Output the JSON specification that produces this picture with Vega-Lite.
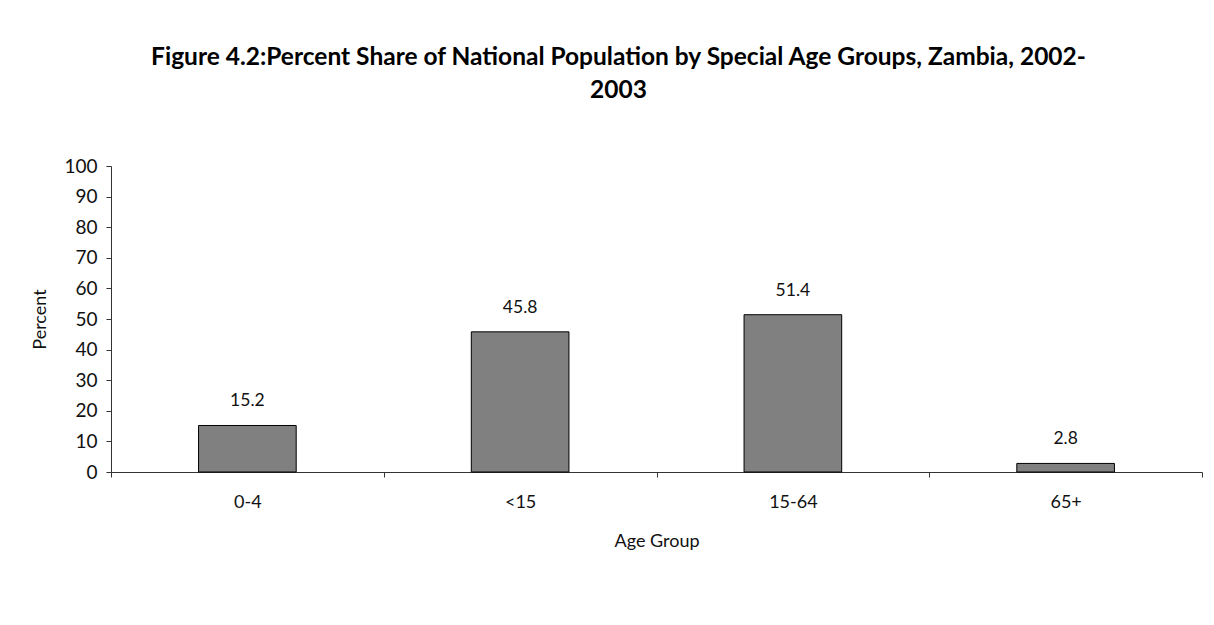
{
  "$schema": "https://vega.github.io/schema/vega-lite/v6.json",
  "autosize": {"type": "none"},
  "width": 1091,
  "height": 306,
  "padding": {"left": 111, "top": 166, "right": 12, "bottom": 153},
  "background": "white",
  "config": {
    "view": {"stroke": null},
    "font": "Lato",
    "axis": {"domainColor": "#333", "tickColor": "#333", "labelColor": "#111", "titleColor": "#111", "labelFont": "Lato", "titleFont": "Lato", "titleFontWeight": "normal", "grid": false}
  },
  "title": {
    "text": ["Figure 4.2:Percent Share of National Population by Special Age Groups, Zambia, 2002-", "2003"],
    "font": "Lato",
    "fontSize": 24.5,
    "fontWeight": "bold",
    "color": "#000",
    "lineHeight": 33,
    "anchor": "middle",
    "dx": -38,
    "offset": 54
  },
  "data": {
    "values": [
      {"group": "0-4", "percent": 15.2},
      {"group": "<15", "percent": 45.8},
      {"group": "15-64", "percent": 51.4},
      {"group": "65+", "percent": 2.8}
    ]
  },
  "encoding": {
    "x": {
      "field": "group",
      "type": "nominal",
      "sort": null,
      "scale": {"paddingInner": 0, "paddingOuter": 0},
      "axis": {
        "title": "Age Group",
        "labelAngle": 0,
        "labelFontSize": 18,
        "titleFontSize": 18,
        "tickBand": "extent",
        "tickSize": 5,
        "labelPadding": 16,
        "titlePadding": 21
      }
    },
    "y": {
      "field": "percent",
      "type": "quantitative",
      "scale": {"domain": [0, 100], "nice": false},
      "axis": {
        "title": "Percent",
        "values": [0, 10, 20, 30, 40, 50, 60, 70, 80, 90, 100],
        "labelFontSize": 19,
        "titleFontSize": 18,
        "tickSize": 5,
        "labelPadding": 9,
        "titlePadding": 14
      }
    }
  },
  "layer": [
    {
      "mark": {"type": "bar", "color": "#808080", "stroke": "#000", "strokeWidth": 1, "width": {"band": 0.358}}
    },
    {
      "mark": {"type": "text", "baseline": "alphabetic", "dy": -19, "fontSize": 17.5, "font": "Lato", "color": "#111"},
      "encoding": {"text": {"field": "percent", "type": "quantitative", "format": ".1f"}}
    }
  ]
}
